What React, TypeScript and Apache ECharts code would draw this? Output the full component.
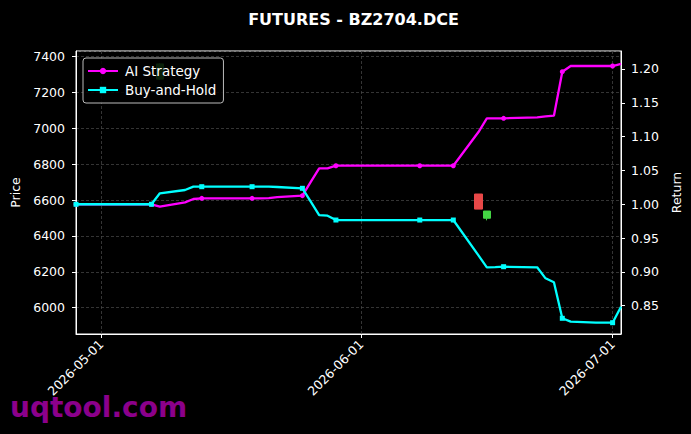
import React, { useEffect, useRef } from 'react';
import * as echarts from 'echarts';

const dates = [
  '2026-04-28', '2026-04-29', '2026-04-30', '2026-05-06', '2026-05-07', '2026-05-08',
  '2026-05-11', '2026-05-12', '2026-05-13', '2026-05-14', '2026-05-15', '2026-05-18',
  '2026-05-19', '2026-05-20', '2026-05-21', '2026-05-22', '2026-05-25', '2026-05-26',
  '2026-05-27', '2026-05-28', '2026-05-29', '2026-06-01', '2026-06-02', '2026-06-03',
  '2026-06-04', '2026-06-05', '2026-06-08', '2026-06-09', '2026-06-10', '2026-06-11',
  '2026-06-12', '2026-06-15', '2026-06-16', '2026-06-17', '2026-06-18', '2026-06-22',
  '2026-06-23', '2026-06-24', '2026-06-25', '2026-06-26', '2026-06-29', '2026-06-30',
  '2026-07-01', '2026-07-02',
];

const aiReturn = [
  1.0, 1.0, 1.0, 1.0, 1.0, 0.9966,
  1.0029, 1.0078, 1.0088, 1.0088, 1.0088, 1.0088,
  1.0088, 1.0088, 1.0092, 1.0105, 1.0127, 1.033,
  1.0532, 1.0532, 1.057, 1.057, 1.057, 1.057,
  1.057, 1.057, 1.057, 1.057, 1.057, 1.057,
  1.057, 1.1068, 1.1271, 1.1271, 1.1271, 1.1286,
  1.1298, 1.131, 1.196, 1.2044, 1.2044, 1.2044,
  1.2044, 1.2074,
];

const bhReturn = [
  1.0, 1.0, 1.0, 1.0, 1.0, 1.0162,
  1.0211, 1.026, 1.026, 1.026, 1.026, 1.026,
  1.026, 1.026, 1.026, 1.0255, 1.0236, 1.004,
  0.9841, 0.9831, 0.9767, 0.9767, 0.9767, 0.9767,
  0.9767, 0.9767, 0.9767, 0.9767, 0.9767, 0.9767,
  0.9767, 0.9245, 0.9068, 0.9072, 0.9077, 0.9068,
  0.8905, 0.8846, 0.8314, 0.8264, 0.8249, 0.8249,
  0.8249, 0.8485,
];

const markerDates = [
  '2026-04-28', '2026-05-07', '2026-05-13', '2026-05-19', '2026-05-25', '2026-05-29',
  '2026-06-08', '2026-06-12', '2026-06-18', '2026-06-25', '2026-07-01',
];

const candleDates = ['2026-05-08', '2026-06-15', '2026-06-16'];
const candleOpen = [7275, 6634, 6499];
const candleClose = [7360, 6550, 6539];
const candleLow = [7270, 6550, 6487];
const candleHigh = [7365, 6634, 6539];

const titleText = 'FUTURES - BZ2704.DCE';
const watermark = 'uqtool.com';

const FONT = '"DejaVu Sans", sans-serif';

export default function App() {
  const ref = useRef<HTMLDivElement>(null);
  useEffect(() => {
    document.body.style.margin = '0';
    document.body.style.background = '#000';
    const chart = echarts.init(ref.current!, null, { renderer: 'svg' });

    const lineData = (vals: number[]) =>
      dates.map((d, i) => {
        const item: any = { value: [d, vals[i]] };
        if (!markerDates.includes(d)) item.symbol = 'none';
        return item;
      });

    const candleData = candleDates.map((d, i) => [d, candleOpen[i], candleClose[i], candleLow[i], candleHigh[i]]);

    const gridLine = { show: true, lineStyle: { color: '#4a4a4a', type: [3, 2], width: 0.7 } };

    chart.setOption({
      animation: false,
      backgroundColor: '#000',
      textStyle: { fontFamily: FONT },
      title: {
        text: titleText,
        left: 348.5,
        textAlign: 'center',
        top: 6,
        textStyle: { color: '#fff', fontSize: 16, fontWeight: 'bold', fontFamily: FONT },
      },
      grid: {
        left: 76, right: 70, top: 51, bottom: 100,
        show: true, borderColor: '#fff', borderWidth: 1, backgroundColor: 'transparent',
      },
      legend: {
        orient: 'vertical',
        left: 83,
        top: 58,
        padding: [6, 7, 6, 4],
        itemGap: 5,
        itemWidth: 30,
        itemHeight: 8,
        backgroundColor: 'rgba(0,0,0,0.85)',
        borderColor: '#bbb',
        borderWidth: 1,
        borderRadius: 3,
        textStyle: { color: '#fff', fontSize: 13.5, fontFamily: FONT, padding: [0, 0, 0, 2] },
        data: ['AI Strategy', 'Buy-and-Hold'],
      },
      xAxis: {
        type: 'time',
        min: '2026-04-28',
        max: '2026-07-02',
        minInterval: 28 * 86400000,
        maxInterval: 31 * 86400000,
        axisLine: { show: true, lineStyle: { color: '#fff', width: 1 } },
        axisTick: { show: true, length: 4, lineStyle: { color: '#fff' } },
        axisLabel: {
          color: '#fff',
          fontSize: 12.5,
          fontFamily: FONT,
          rotate: 45,
          margin: 8,
          showMinLabel: false,
          showMaxLabel: false,
          formatter: (v: number) => echarts.time.format(v, '{yyyy}-{MM}-{dd}', false),
        },
        splitLine: gridLine,
      },
      yAxis: [
        {
          type: 'value',
          position: 'left',
          min: 5853,
          max: 7432,
          splitNumber: 7,
          name: 'Price',
          nameLocation: 'middle',
          nameGap: 43,
          nameRotate: 90,
          nameTextStyle: { color: '#fff', fontSize: 12.5, fontFamily: FONT },
          axisLine: { show: true, lineStyle: { color: '#fff' } },
          axisTick: { show: true, length: 4, lineStyle: { color: '#fff' } },
          axisLabel: {
            color: '#fff', fontSize: 12.5, fontFamily: FONT, margin: 11,
            showMinLabel: false, showMaxLabel: false,
            formatter: (v: number) => String(v),
          },
          splitLine: gridLine,
        },
        {
          type: 'value',
          position: 'right',
          min: 0.8082,
          max: 1.2266,
          splitNumber: 8,
          name: 'Return',
          nameLocation: 'middle',
          nameGap: 34,
          nameRotate: 90,
          nameTextStyle: { color: '#fff', fontSize: 12.5, fontFamily: FONT },
          axisLine: { show: true, lineStyle: { color: '#fff' } },
          axisTick: { show: true, length: 4, lineStyle: { color: '#fff' } },
          axisLabel: {
            color: '#fff', fontSize: 12.5, fontFamily: FONT, margin: 10,
            showMinLabel: false, showMaxLabel: false,
            formatter: (v: number) => v.toFixed(2),
          },
          splitLine: { show: false },
        },
      ],
      series: [
        {
          name: 'Candles',
          type: 'candlestick',
          yAxisIndex: 0,
          barWidth: 8,
          data: candleData,
          itemStyle: {
            color: '#44d444',
            color0: '#e84848',
            borderColor: '#44d444',
            borderColor0: '#e84848',
            borderWidth: 1,
          },
          z: 1,
        },
        {
          name: 'AI Strategy',
          type: 'line',
          yAxisIndex: 1,
          data: lineData(aiReturn),
          symbol: 'circle',
          symbolSize: 5,
          showAllSymbol: true,
          lineStyle: { color: '#ff00ff', width: 2.3 },
          itemStyle: { color: '#ff00ff' },
          z: 3,
        },
        {
          name: 'Buy-and-Hold',
          type: 'line',
          yAxisIndex: 1,
          data: lineData(bhReturn),
          symbol: 'rect',
          symbolSize: 5,
          showAllSymbol: true,
          lineStyle: { color: '#00ffff', width: 2.3 },
          itemStyle: { color: '#00ffff' },
          z: 4,
        },
      ],
      graphic: [
        {
          type: 'text',
          left: 10,
          top: 393,
          z: 100,
          style: { text: watermark, fill: '#8b008b', font: 'bold 28px "DejaVu Sans", sans-serif' },
        },
      ],
    });

    return () => chart.dispose();
  }, []);
  return <div ref={ref} style={{ width: 691, height: 434 }} />;
}
